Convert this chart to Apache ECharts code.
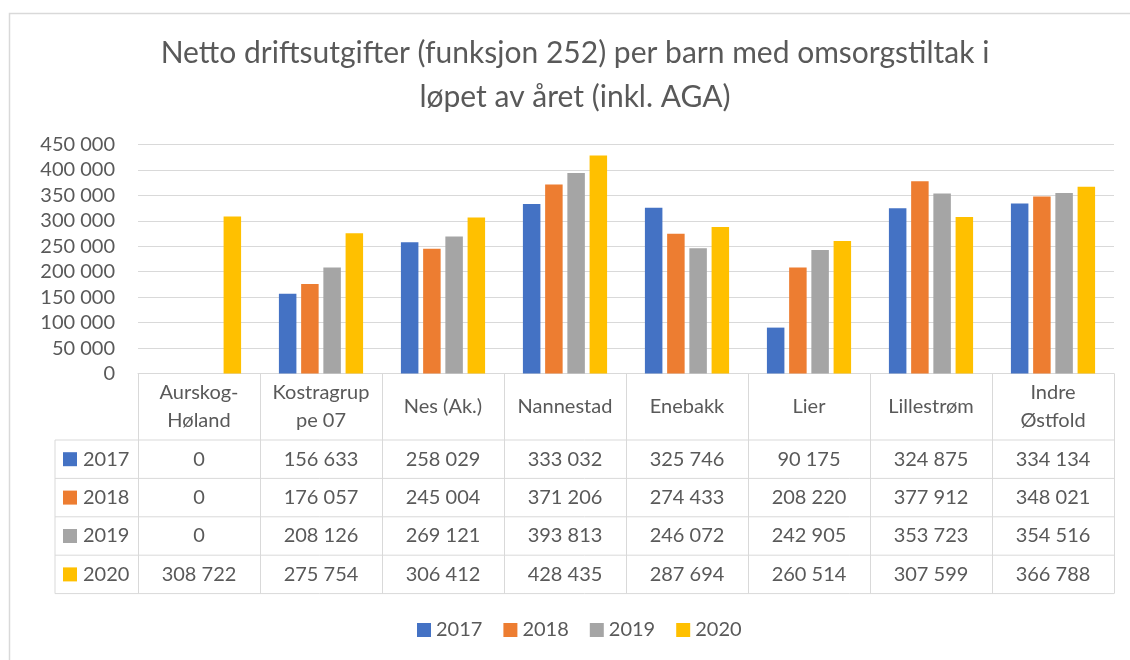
<!DOCTYPE html>
<html>
<head>
<meta charset="utf-8">
<script src="https://cdn.jsdelivr.net/npm/echarts@6/dist/echarts.min.js"></script>
<style>
html,body{margin:0;padding:0;background:#fff;}
#chart{width:1130px;height:660px;}
</style>
</head>
<body>
<div id="chart"></div>
<script>
const titleLines = ['Netto driftsutgifter (funksjon 252) per barn med omsorgstiltak i', 'løpet av året (inkl. AGA)'];
const categories = ['Aurskog-\nHøland', 'Kostragrup\npe 07', 'Nes (Ak.)', 'Nannestad', 'Enebakk', 'Lier', 'Lillestrøm', 'Indre\nØstfold'];
const seriesNames = ['2017', '2018', '2019', '2020'];
const v2017 = [0, 156633, 258029, 333032, 325746, 90175, 324875, 334134];
const v2018 = [0, 176057, 245004, 371206, 274433, 208220, 377912, 348021];
const v2019 = [0, 208126, 269121, 393813, 246072, 242905, 353723, 354516];
const v2020 = [308722, 275754, 306412, 428435, 287694, 260514, 307599, 366788];
const colors = ['#4472C4', '#ED7D31', '#A5A5A5', '#FFC000'];
const yMax = 450000, yInterval = 50000;

const allValues = [v2017, v2018, v2019, v2020];
const FONT = 'Lato, "Noto Sans", sans-serif';
const TXT = '#595959';
const LINE = '#d9d9d9';

function fmt(n) { return String(n).replace(/\B(?=(\d{3})+(?!\d))/g, ' '); }

// layout
const W = 1130, H = 660;
const gridLeft = 138, gridRight = 1114, gridTop = 144.5, gridBottomY = 373.5;
const headerBottom = 440;
const rowH = 38.4;
const tableLeft = 55;
const tableBottom = headerBottom + rowH * 4;

const chart = echarts.init(document.getElementById('chart'), null, {renderer: 'canvas'});

const xAxes = [{
  type: 'category',
  data: categories,
  position: 'bottom',
  axisLine: {show: true, lineStyle: {color: LINE, width: 1}},
  axisTick: {show: true, interval: 0, length: tableBottom - gridBottomY, lineStyle: {color: LINE, width: 1}},
  axisLabel: {
    interval: 0, margin: (headerBottom - gridBottomY) / 2, verticalAlign: 'middle',
    color: TXT, fontSize: 20, lineHeight: 28, fontFamily: FONT
  },
  splitLine: {show: false}
}];
allValues.forEach((vals, i) => {
  xAxes.push({
    type: 'category',
    data: categories,
    position: 'bottom',
    axisLine: {show: false},
    axisTick: {show: false},
    splitLine: {show: false},
    axisLabel: {
      interval: 0,
      margin: headerBottom - gridBottomY + rowH * (i + 0.5),
      verticalAlign: 'middle',
      color: TXT, fontSize: 20, fontFamily: FONT,
      formatter: (value, idx) => fmt(vals[idx])
    }
  });
});

const graphics = [
  {type: 'rect', shape: {x: 9.5, y: 13.5, width: W + 20, height: H + 20}, style: {fill: null, stroke: LINE, lineWidth: 1.5}, silent: true},
  {type: 'text', style: {text: titleLines[0], x: 575, y: 53, textAlign: 'center', textVerticalAlign: 'middle', fill: TXT, font: '30px ' + FONT}},
  {type: 'text', style: {text: titleLines[1], x: 575, y: 97, textAlign: 'center', textVerticalAlign: 'middle', fill: TXT, font: '30px ' + FONT}},
  {type: 'line', shape: {x1: tableLeft, y1: headerBottom, x2: tableLeft, y2: tableBottom}, style: {stroke: LINE, lineWidth: 1}}
];
for (let i = 0; i <= 4; i++) {
  const y = headerBottom + rowH * i;
  graphics.push({type: 'line', shape: {x1: tableLeft, y1: y, x2: gridRight, y2: y}, style: {stroke: LINE, lineWidth: 1}});
}
seriesNames.forEach((name, i) => {
  const cy = headerBottom + rowH * (i + 0.5);
  graphics.push({type: 'rect', shape: {x: 63, y: cy - 7, width: 14, height: 14}, style: {fill: colors[i]}});
  graphics.push({type: 'text', style: {text: name, x: 83, y: cy, textVerticalAlign: 'middle', fill: TXT, font: '20px ' + FONT}});
});

const option = {
  animation: false,
  color: colors,
  grid: {left: gridLeft, right: W - gridRight, top: gridTop, bottom: H - gridBottomY, containLabel: false},
  legend: {
    top: 620, left: 417, padding: 0,
    itemWidth: 14, itemHeight: 14, itemGap: 21,
    icon: 'rect',
    textStyle: {color: TXT, fontSize: 20, fontFamily: FONT},
    data: seriesNames
  },
  xAxis: xAxes,
  yAxis: {
    type: 'value', min: 0, max: yMax, interval: yInterval,
    axisLine: {show: false}, axisTick: {show: false},
    splitLine: {lineStyle: {color: LINE, width: 1}},
    axisLabel: {color: TXT, fontSize: 20, fontFamily: FONT, margin: 23, formatter: v => fmt(v)}
  },
  series: allValues.map((vals, i) => ({
    name: seriesNames[i],
    type: 'bar',
    xAxisIndex: 0,
    data: vals,
    barCategoryGap: '31%',
    barGap: '27%',
    itemStyle: {color: colors[i]}
  })),
  graphic: graphics
};
chart.setOption(option);
</script>
</body>
</html>
